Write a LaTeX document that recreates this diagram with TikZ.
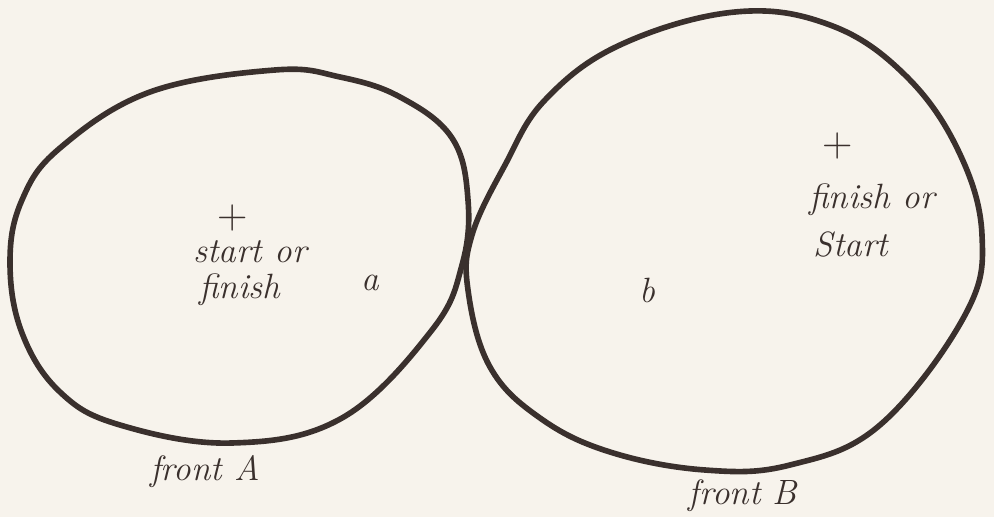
\documentclass[tikz,border=0pt]{standalone}
\usepackage{tikz}
\usetikzlibrary{positioning}
\definecolor{paper}{HTML}{F7F3EC}
\definecolor{ink}{HTML}{3A302D}

\begin{document}
\begin{tikzpicture}[
    x=0.02cm, y=-0.02cm,
    rim/.style={draw=ink, line width=3.2pt, line join=round},
    lbl/.style={text=ink, inner sep=0pt, font=\fontsize{20}{24}\selectfont\itshape},
    crossmark/.style={text=ink, inner sep=0pt, font=\fontsize{24}{24}\selectfont}
]
    \fill[paper] (0,0) rectangle (994,517);
    \useasboundingbox (0,0) rectangle (994,517);

    % front A
    \draw[rim] plot[smooth cycle, tension=0.65] coordinates {
        (275,70) (340,77) (400,97) (452,138) (468,200) (462,265) (432,330)
        (342,418) (232,443) (120,425) (60,392) (22,333) (10,262) (22,200)
        (60,148) (150,92)};
    % front B
    \draw[rim] plot[smooth cycle, tension=0.65] coordinates {
        (735,12) (830,25) (905,75) (958,150) (982,235) (965,315) (880,425)
        (790,465) (705,470) (610,452) (540,418) (490,367) (468,290) (472,235)
        (505,165) (545,100) (620,45)};

    \node[crossmark] (plusA) at (233,218) {+};
    \node[lbl] (startA) at (250,252) {start or};
    \node[lbl] (finishA) at (240,290) {finish};
    \node[lbl] (ptA) at (370,283) {a};
    \node[lbl] (frontA) at (205,472) {front A};

    \node[crossmark] (plusB) at (838,146) {+};
    \node[lbl] (finishB) at (872,200) {finish or};
    \node[lbl] (startB) at (851,244) {Start};
    \node[lbl] (ptB) at (647,290) {b};
    \node[lbl] (frontB) at (743,496) {front B};
\end{tikzpicture}
\end{document}
